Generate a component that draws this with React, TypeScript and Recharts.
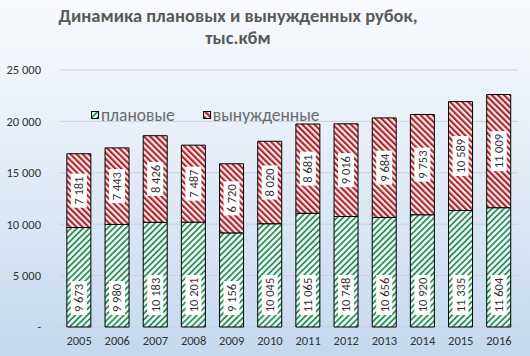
import { BarChart, Bar, XAxis, YAxis, CartesianGrid, LabelList } from 'recharts';

const years = ['2005', '2006', '2007', '2008', '2009', '2010', '2011', '2012', '2013', '2014', '2015', '2016'];
const planned = [9673, 9980, 10183, 10201, 9156, 10045, 11065, 10748, 10656, 10920, 11335, 11604];
const forced = [7181, 7443, 8426, 7487, 6720, 8020, 8681, 9016, 9684, 9753, 10589, 11009];
const yTicks = [0, 5000, 10000, 15000, 20000, 25000];

const data = years.map((year, i) => ({ year, planned: planned[i], forced: forced[i] }));

const fmt = (v: number) => (v === 0 ? '-' : String(v).replace(/\B(?=(\d{3})+(?!\d))/g, ' '));

const FONT = 'Carlito, Calibri, "Open Sans", sans-serif';

function boxOf(props: any) {
  const vb = props.viewBox && props.viewBox.width !== undefined ? props.viewBox : props;
  return { x: Number(vb.x), y: Number(vb.y), width: Number(vb.width), height: Number(vb.height) };
}

function makeLabel(mode: 'base' | 'center') {
  return (props: any) => {
    const { x, y, width, height } = boxOf(props);
    const text = fmt(Number(props.value));
    const len = text.length * 6 + 4;
    const cx = x + width / 2;
    const cy = mode === 'base' ? y + height - 12 - len / 2 : y + height / 2;
    return (
      <g transform={`translate(${cx},${cy}) rotate(-90)`}>
        <rect x={-len / 2} y={-8} width={len} height={16} fill="#ffffff" />
        <text x={0} y={0} dy="0.35em" textAnchor="middle" fontSize={12.5} fill="#333333" fontFamily={FONT}>
          {text}
        </text>
      </g>
    );
  };
}

const legendItems = [
  { label: 'плановые', fill: 'url(#greenStripe)' },
  { label: 'вынужденные', fill: 'url(#redStripe)' },
];

export default function App() {
  return (
    <div
      style={{
        position: 'fixed',
        left: 0,
        top: 0,
        width: 530,
        height: 356,
        background: 'linear-gradient(to bottom, #f8fafd 0%, #e4edf7 45%, #c4d8ee 100%)',
      }}
    >
      <svg width={0} height={0} style={{ position: 'absolute' }}>
        <defs>
          <pattern id="redStripe" width={4.3} height={4.3} patternUnits="userSpaceOnUse" patternTransform="rotate(-45)">
            <rect width={4.3} height={4.3} fill="#fde8e8" />
            <rect width={2.1} height={4.3} fill="#a8262e" />
          </pattern>
          <pattern id="greenStripe" width={4.3} height={4.3} patternUnits="userSpaceOnUse" patternTransform="rotate(45)">
            <rect width={4.3} height={4.3} fill="#eafaf1" />
            <rect width={1.7} height={4.3} fill="#2f8a5c" />
          </pattern>
        </defs>
      </svg>
      <div
        style={{
          position: 'absolute',
          left: 0,
          top: 5,
          width: 476,
          textAlign: 'center',
          fontFamily: FONT,
          fontWeight: 700,
          fontSize: 18.5,
          lineHeight: '22px',
          color: '#595959',
        }}
      >
        Динамика плановых и вынужденных рубок,
        <br />
        тыс.кбм
      </div>
      <BarChart
        width={530}
        height={356}
        data={data}
        margin={{ top: 70, right: 12, left: 0, bottom: 0 }}
        barCategoryGap="18%"
      >
        <CartesianGrid vertical={false} stroke="#c9d1dc" />
        <XAxis
          dataKey="year"
          height={29}
          axisLine={false}
          tickLine={false}
          tickSize={0}
          tickMargin={9}
          tick={{ fontSize: 12.5, fill: '#333333', fontFamily: FONT }}
        />
        <YAxis
          width={60}
          domain={[0, 25000]}
          ticks={yTicks}
          tickFormatter={fmt}
          axisLine={false}
          tickLine={false}
          tickSize={0}
          tickMargin={19}
          tick={{ fontSize: 12.5, fill: '#333333', fontFamily: FONT }}
        />
        <Bar dataKey="planned" stackId="a" fill="url(#greenStripe)" stroke="#000" strokeWidth={1} isAnimationActive={false}>
          <LabelList dataKey="planned" content={makeLabel('base')} />
        </Bar>
        <Bar dataKey="forced" stackId="a" fill="url(#redStripe)" stroke="#000" strokeWidth={1} isAnimationActive={false}>
          <LabelList dataKey="forced" content={makeLabel('center')} />
        </Bar>
      </BarChart>
      <div
        style={{
          position: 'absolute',
          left: 91,
          top: 105,
          display: 'flex',
          gap: 28,
          fontFamily: FONT,
          fontSize: 17.5,
          lineHeight: '20px',
          color: '#6b6b6b',
        }}
      >
        {legendItems.map((it) => (
          <div key={it.label} style={{ display: 'flex', alignItems: 'center', gap: 2 }}>
            <svg width={8} height={8}>
              <rect x={0.5} y={0.5} width={7} height={7} fill={it.fill} stroke="#000" strokeWidth={1} />
            </svg>
            <span>{it.label}</span>
          </div>
        ))}
      </div>
    </div>
  );
}
